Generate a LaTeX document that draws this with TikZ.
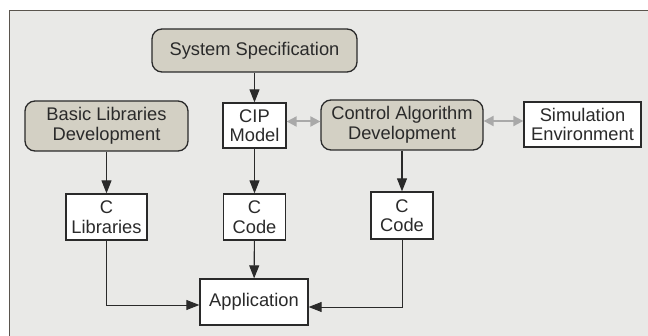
\documentclass[tikz,border=0pt]{standalone}
\usepackage{fontspec}
\setmainfont{Liberation Sans}
\usetikzlibrary{arrows.meta}
\definecolor{bgc}{HTML}{E9E9E7}
\definecolor{boxfill}{HTML}{D3D0C4}
\definecolor{linec}{HTML}{2A2A2A}
\definecolor{framec}{HTML}{5A554E}
\definecolor{dblc}{HTML}{A9A9A9}
\begin{document}
\begin{tikzpicture}[x=1pt,y=-1pt,
  every node/.style={font=\fontsize{18.3}{19.5}\selectfont, text=linec, align=center, inner sep=0pt},
  roundbox/.style={draw=linec, line width=1.3pt, fill=boxfill, rounded corners=10pt},
  plainbox/.style={draw=linec, line width=1.3pt, fill=white},
  flow/.style={draw=linec, line width=1.1pt, -{Triangle[length=13pt,width=10pt]}},
  elbow/.style={draw=linec, line width=0.9pt, -{Triangle[length=13pt,width=10pt]}},
  twoway/.style={draw=dblc, line width=2pt, {Triangle[length=10pt,width=10pt]}-{Triangle[length=10pt,width=10pt]}}
]
\useasboundingbox (0,0) rectangle (648,336);
\clip (0,0) rectangle (648,336);
\fill[white] (0,0) rectangle (648,336);
\draw[framec, line width=1.2pt, fill=bgc] (9.5,10.5) rectangle (700,400);

\node[roundbox, minimum width=205pt, minimum height=43pt] (spec) at (254.5,50.5) {System Specification};
\node[roundbox, minimum width=163pt, minimum height=50pt] (basic) at (106.5,126) {Basic Libraries\\Development};
\node[plainbox, minimum width=63pt, minimum height=45pt] (cip) at (254.5,125.5) {CIP\\Model};
\node[roundbox, minimum width=162pt, minimum height=50pt] (ctrl) at (402,125) {Control Algorithm\\Development};
\node[plainbox, minimum width=117pt, minimum height=45pt] (sim) at (582.5,124.5) {Simulation\\Environment};
\node[plainbox, minimum width=81pt, minimum height=46pt] (clib) at (106.5,217) {C\\Libraries};
\node[plainbox, minimum width=62pt, minimum height=46pt] (ccode1) at (254.5,217) {C\\Code};
\node[plainbox, minimum width=62pt, minimum height=47pt] (ccode2) at (402,215.5) {C\\Code};
\node[plainbox, minimum width=108pt, minimum height=46pt] (app) at (254,302) {Application};

\draw[flow] (spec) -- (cip);
\draw[flow] (basic) -- (clib);
\draw[flow] (cip) -- (ccode1);
\draw[flow] (ctrl) -- (ccode2);
\draw[flow] (ccode1) -- (app);
\draw[elbow] (clib.south) |- ([yshift=-3pt]app.west);
\draw[elbow] (ccode2.south) |- ([yshift=-5pt]app.east);
\draw[twoway] ([yshift=4pt]cip.east) -- ([yshift=4pt]cip.east -| ctrl.west);
\draw[twoway] ([yshift=4pt]ctrl.east) -- ([yshift=4pt]ctrl.east -| sim.west);
\end{tikzpicture}
\end{document}
